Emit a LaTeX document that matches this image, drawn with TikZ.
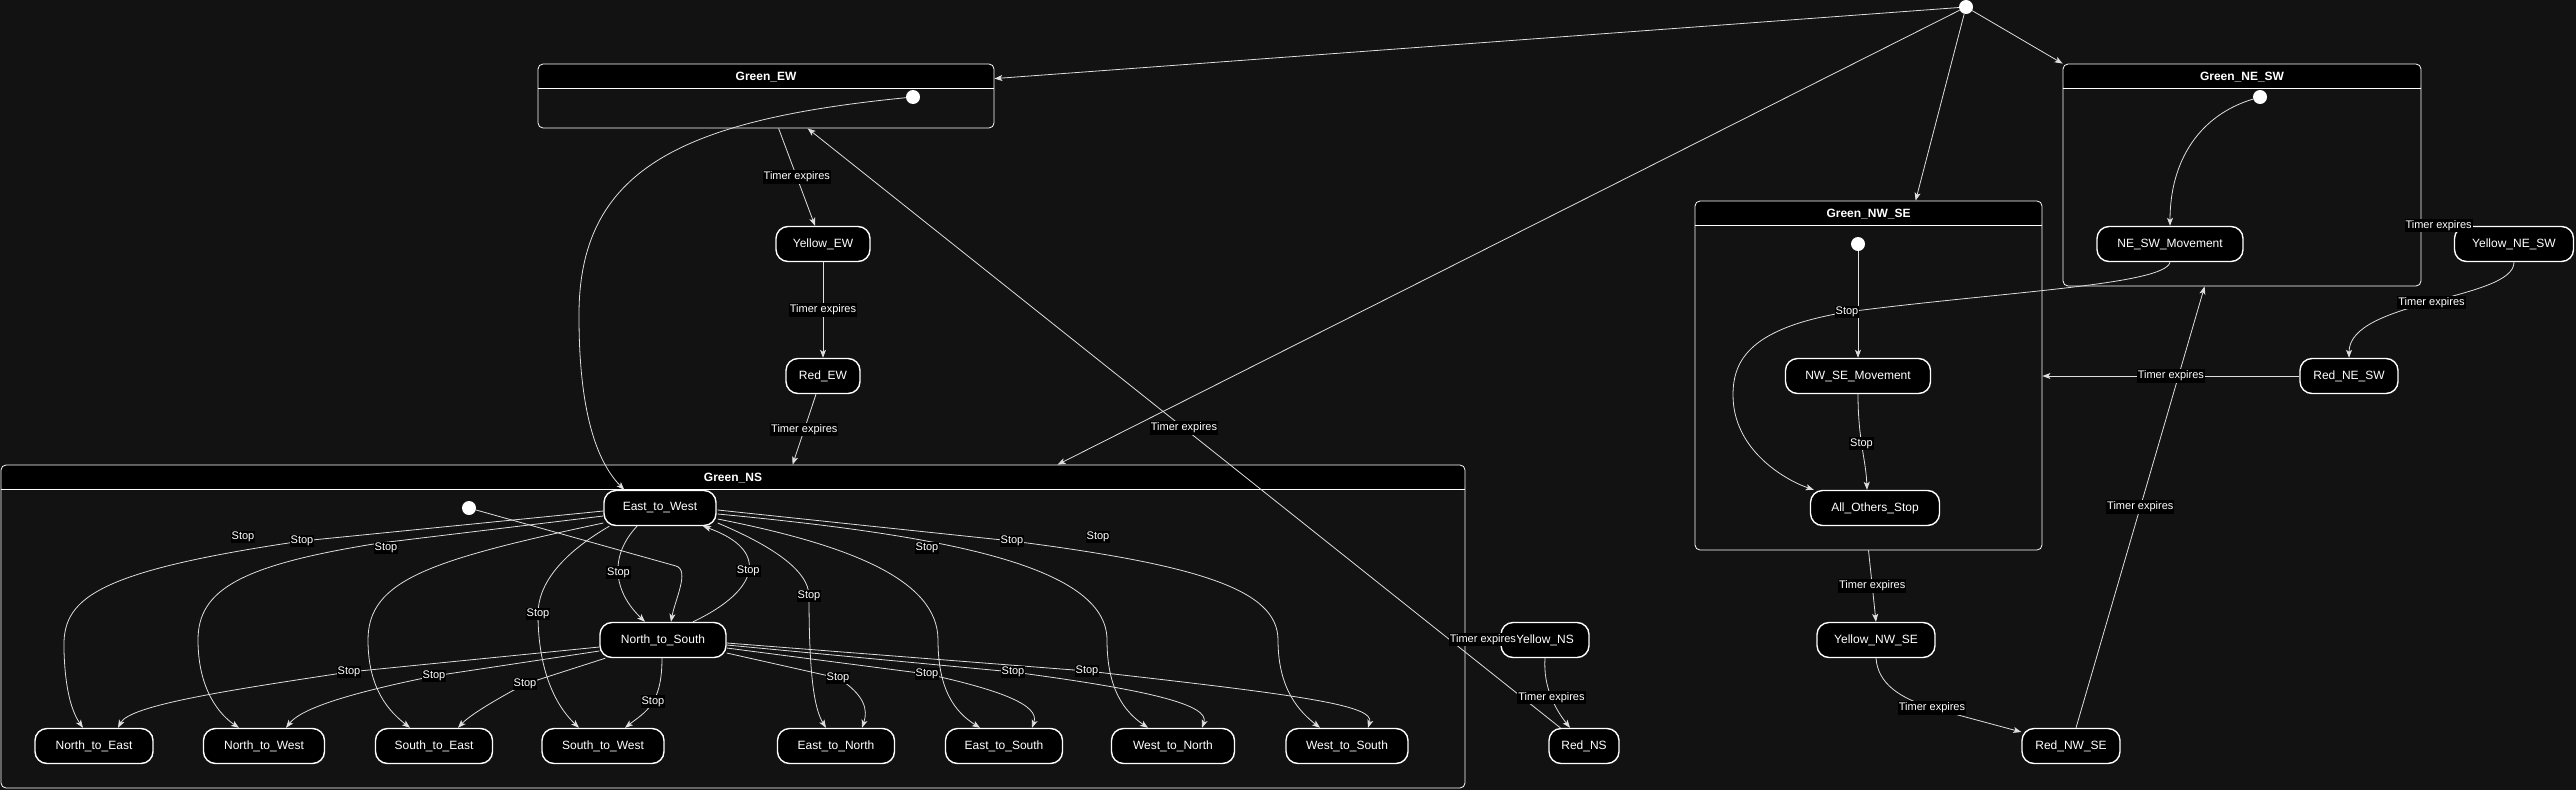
\documentclass[tikz,border=0pt]{standalone}
\usepackage{fontspec}
\setmainfont{Liberation Sans}
\usetikzlibrary{arrows.meta,positioning,calc}
\definecolor{canvasbg}{RGB}{18,18,18}
\definecolor{linegray}{RGB}{222,222,222}

\tikzset{
    stbox/.style={draw=white, line width=1.4pt, fill=black, rounded corners=12pt, minimum height=35pt, inner sep=0pt, text=white, font=\fontsize{12}{14}\selectfont},
    cluster/.style={draw=white, line width=0.8pt, fill=canvasbg, rounded corners=5pt, inner sep=0pt,
        path picture={\fill[black] ([yshift=2pt]path picture bounding box.north west) rectangle ([yshift=-25pt]path picture bounding box.north east);}},
    clustertitle/.style={text=white, font=\bfseries\fontsize{12}{14}\selectfont, inner sep=0pt},
    clusterline/.style={draw=white, line width=0.8pt},
    initdot/.style={circle, fill=white, minimum size=14pt, inner sep=0pt},
    trans/.style={draw=linegray, line width=0.8pt, -{Stealth[length=8pt,width=6pt,inset=2pt]}},
    lbl/.style={fill=black, text=white, font=\fontsize{11}{13}\selectfont, inner xsep=1pt, inner ysep=1.5pt}
}

\begin{document}
\begin{tikzpicture}[x=1pt, y=-1pt]
    % Canvas
    \fill[canvasbg] (0,0) rectangle (2576,790);
    \useasboundingbox (0,0) rectangle (2576,790);

    % Composite states
    \node[cluster, minimum width=456pt, minimum height=64pt] (GreenEW) at (766,96) {};
    \node[cluster, minimum width=1464pt, minimum height=323pt] (GreenNS) at (733,626.5) {};
    \node[cluster, minimum width=347pt, minimum height=349pt] (GreenNWSE) at (1868.5,375.5) {};
    \node[cluster, minimum width=358pt, minimum height=222pt] (GreenNESW) at (2242,175) {};
    \foreach \cl/\title in {GreenEW/Green\_EW, GreenNS/Green\_NS, GreenNWSE/Green\_NW\_SE, GreenNESW/Green\_NE\_SW} {
        \draw[clusterline] ($(\cl.north west)+(0,25)$) -- ($(\cl.north east)+(0,25)$);
        \node[clustertitle] (\cl title) at ($(\cl.north)+(0,13)$) {\title};
    }

    % Start points
    \node[initdot] (startTop) at (1966,7) {};
    \node[initdot] (dotEW) at (913,97) {};
    \node[initdot] (dotNS) at (469,508) {};
    \node[initdot] (dotNWSE) at (1858,244) {};
    \node[initdot] (dotNESW) at (2260,97) {};

    % Simple states
    \node[stbox, minimum width=94pt] (YellowEW) at (823,244) {Yellow\_EW};
    \node[stbox, minimum width=74pt] (RedEW) at (823,376) {Red\_EW};
    \node[stbox, minimum width=112pt] (EastWest) at (660,508) {East\_to\_West};
    \node[stbox, minimum width=126pt] (NorthSouth) at (663,640) {North\_to\_South};
    \node[stbox, minimum width=118pt] (NorthEast) at (94,746) {North\_to\_East};
    \node[stbox, minimum width=121pt] (NorthWest) at (264,746) {North\_to\_West};
    \node[stbox, minimum width=117pt] (SouthEast) at (434,746) {South\_to\_East};
    \node[stbox, minimum width=122pt] (SouthWest) at (603,746) {South\_to\_West};
    \node[stbox, minimum width=117pt] (EastNorth) at (836,746) {East\_to\_North};
    \node[stbox, minimum width=117pt] (EastSouth) at (1004,746) {East\_to\_South};
    \node[stbox, minimum width=123pt] (WestNorth) at (1173,746) {West\_to\_North};
    \node[stbox, minimum width=122pt] (WestSouth) at (1347,746) {West\_to\_South};
    \node[stbox, minimum width=88pt] (YellowNS) at (1545,640) {Yellow\_NS};
    \node[stbox, minimum width=70pt] (RedNS) at (1584,746) {Red\_NS};
    \node[stbox, minimum width=145pt] (NWSEMove) at (1858,376) {NW\_SE\_Movement};
    \node[stbox, minimum width=129pt] (AllStop) at (1875,508) {All\_Others\_Stop};
    \node[stbox, minimum width=118pt] (YellowNWSE) at (1876,640) {Yellow\_NW\_SE};
    \node[stbox, minimum width=98pt] (RedNWSE) at (2071,746) {Red\_NW\_SE};
    \node[stbox, minimum width=146pt] (NESWMove) at (2170,244) {NE\_SW\_Movement};
    \node[stbox, minimum width=119pt] (YellowNESW) at (2514,244) {Yellow\_NE\_SW};
    \node[stbox, minimum width=98pt] (RedNESW) at (2349,376) {Red\_NE\_SW};

    % Entry transitions
    \draw[trans] (startTop) -- ($(GreenEW.north east)+(0,15)$);
    \draw[trans] (startTop) -- ($(GreenNS.north west)+(1057,0)$);
    \draw[trans] (startTop) -- ($(GreenNWSE.north west)+(221,0)$);
    \draw[trans] (startTop) -- (GreenNESW.north west);

    % EW / NS cycle
    \draw[trans] ($(RedNS.north west)+(12,0)$) -- node[lbl]{Timer expires} ($(GreenEW.south west)+(270,0)$);
    \draw[trans] ($(GreenEW.south west)+(241,0)$) -- node[lbl]{Timer expires} ($(YellowEW.north)+(-8,0)$);
    \draw[trans] (YellowEW) -- node[lbl]{Timer expires} (RedEW);
    \draw[trans] ($(RedEW.south)+(-7,0)$) -- node[lbl]{Timer expires} ($(GreenNS.north west)+(792,0)$);
    \draw[trans] (YellowNS.south) .. controls (1543,688) and (1556,710) .. node[lbl]{Timer expires} ($(RedNS.north)+(-14,0)$);
    \draw[trans] ($(GreenNS.north east)+(0,174)$) -- node[lbl]{Timer expires} (YellowNS.west);

    % NW-SE / NE-SW cycle
    \draw[trans] (GreenNWSE.south) -- node[lbl]{Timer expires} (YellowNWSE.north);
    \draw[trans] (YellowNWSE.south) .. controls (1878,684) and (1900,698) .. (1932,708) node[lbl]{Timer expires} -- ($(RedNWSE.west)+(0,-14)$);
    \draw[trans] ($(RedNWSE.north)+(5,0)$) -- node[lbl]{Timer expires} ($(GreenNESW.south west)+(142,0)$);
    \draw[trans] ($(GreenNESW.north east)+(0,161)$) -- node[lbl]{Timer expires} ($(YellowNESW.north west)+(2,1)$);
    \draw[trans] (YellowNESW.south) .. controls (2514,300) and (2349,300) .. node[lbl]{Timer expires} (RedNESW.north);
    \draw[trans] (RedNESW.west) -- node[lbl]{Timer expires} (GreenNWSE.east |- RedNESW.west);

    % Inside Green_EW
    \draw[trans] (dotEW) .. controls (680,120) and (578,170) .. (579,317) .. controls (579,420) and (600,465) .. ($(EastWest.north west)+(21,0)$);

    % Inside Green_NW_SE / Green_NE_SW
    \draw[trans] (dotNWSE) -- (NWSEMove);
    \draw[trans] (NWSEMove.south) .. controls (1858,440) and (1866,460) .. node[lbl, pos=.45]{Stop} ($(AllStop.north)+(-8,0)$);
    \draw[trans] (NESWMove.south) .. controls (2165,285) and (2000,292) .. (1847,312) node[lbl]{Stop}
        .. controls (1750,328) and (1733,360) .. (1733,395) .. controls (1733,450) and (1785,480) .. ($(AllStop.north west)+(4,0)$);
    \draw[trans] (dotNESW) .. controls (2200,115) and (2170,160) .. (NESWMove.north);

    % Inside Green_NS
    \draw[trans] (dotNS) -- (676,566) .. controls (690,570) and (675,600) .. ($(NorthSouth.north)+(8,0)$);
    \draw[trans] ($(EastWest.south)+(-23,0)$) .. controls (610,555) and (612,590) .. node[lbl]{Stop} ($(NorthSouth.north)+(-18,0)$);
    \draw[trans] ($(NorthSouth.north)+(30,0)$) .. controls (760,590) and (770,550) .. node[lbl]{Stop} ($(EastWest.south)+(43,0)$);

    % East_to_West fan, left
    \draw[trans] ($(EastWest.west)+(0,15)$) .. controls (430,560) and (368,580) .. (368,640) .. controls (368,690) and (390,712) .. ($(SouthEast.north)+(-24,0)$);
    \draw[trans] ($(EastWest.west)+(0,8)$) -- (380,543) .. controls (240,565) and (198,590) .. (198,640) .. controls (198,690) and (220,715) .. ($(NorthWest.north)+(-25,0)$);
    \draw[trans] ($(EastWest.west)+(0,3)$) -- (302,541) node[lbl]{Stop} .. controls (90,572) and (62,600) .. (64,650) .. controls (65,690) and (72,712) .. ($(NorthEast.north)+(-11,0)$);
    \draw[trans] ($(EastWest.south west)+(6,0)$) .. controls (560,555) and (538,585) .. (538,614) node[lbl]{Stop} .. controls (538,660) and (550,700) .. ($(SouthWest.north)+(-24,0)$);
    \node[lbl] (stopSE) at (243,537) {Stop};
    \node[lbl] (stopNW) at (386,548) {Stop};

    % East_to_West fan, right
    \draw[trans] ($(EastWest.east)+(1,11)$) .. controls (850,545) and (938,580) .. (938,640) .. controls (938,690) and (955,712) .. ($(EastSouth.north)+(-24,0)$);
    \draw[trans] ($(EastWest.east)+(1,6)$) .. controls (940,535) and (1107,565) .. (1107,640) .. controls (1107,690) and (1125,712) .. ($(WestNorth.north)+(-25,0)$);
    \draw[trans] ($(EastWest.east)+(1,2)$) -- (1012,541) node[lbl]{Stop} .. controls (1200,565) and (1278,590) .. (1278,640) .. controls (1278,690) and (1300,712) .. ($(WestSouth.north)+(-27,0)$);
    \draw[trans] ($(EastWest.east)+(1,15)$) .. controls (770,545) and (809,570) .. (809,596) node[lbl]{Stop} .. controls (809,680) and (815,710) .. ($(EastNorth.north)+(-10,0)$);
    \node[lbl] (stopES) at (1098,537) {Stop};
    \node[lbl] (stopWN) at (927,548) {Stop};

    % North_to_South fan
    \draw[trans] ($(NorthSouth.west)+(0,7)$) -- (349,672) node[lbl]{Stop} .. controls (230,690) and (130,705) .. ($(NorthEast.north)+(24,0)$);
    \draw[trans] ($(NorthSouth.west)+(0,11)$) -- (434,676) node[lbl]{Stop} .. controls (340,695) and (300,710) .. ($(NorthWest.north)+(22,0)$);
    \draw[trans] ($(NorthSouth.south west)+(6,0)$) -- (525,684) node[lbl]{Stop} .. controls (495,700) and (470,715) .. ($(SouthEast.north)+(24,0)$);
    \draw[trans] ($(NorthSouth.south)+(-1,0)$) .. controls (662,705) and (645,712) .. node[lbl, pos=.45]{Stop} ($(SouthWest.north)+(22,0)$);
    \draw[trans] ($(NorthSouth.east)+(0,3)$) -- (1087,671) node[lbl]{Stop} .. controls (1300,695) and (1375,705) .. ($(WestSouth.north)+(21,0)$);
    \draw[trans] ($(NorthSouth.east)+(0,5)$) -- (1013,672) node[lbl]{Stop} .. controls (1150,690) and (1210,705) .. ($(WestNorth.north)+(29,0)$);
    \draw[trans] ($(NorthSouth.east)+(0,8)$) -- (927,674) node[lbl]{Stop} .. controls (1000,690) and (1040,705) .. ($(EastSouth.north)+(28,0)$);
    \draw[trans] ($(NorthSouth.east)+(0,13)$) -- (838,678) node[lbl]{Stop} .. controls (865,695) and (868,710) .. ($(EastNorth.north)+(26,0)$);
\end{tikzpicture}
\end{document}
